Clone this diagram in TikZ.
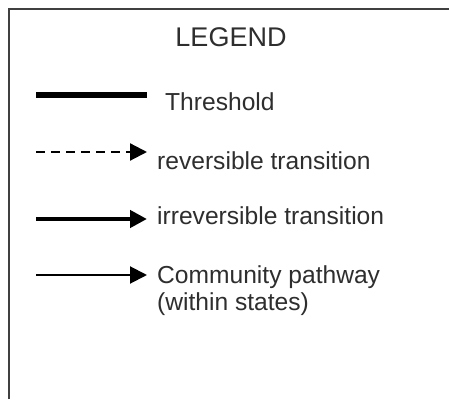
\documentclass[tikz,border=0pt]{standalone}
\usepackage{fontspec}
\setmainfont{Liberation Sans}
\usetikzlibrary{arrows.meta}
\begin{document}
\begin{tikzpicture}[x=1pt,y=1pt,
  frame/.style={draw=black!75, line width=2.4pt},
  lbl/.style={anchor=base west, inner sep=0pt, text=black!82, font=\fontsize{24.6}{27}\selectfont},
  tip/.style={-{Triangle[length=17pt,width=17pt]}},
  thresh/.style={line width=5.5pt},
  revline/.style={tip, line width=2.2pt, dash pattern=on 9pt off 6pt},
  irrline/.style={tip, line width=4.5pt},
  comline/.style={tip, line width=2pt}]
\useasboundingbox (0,0) rectangle (449,399);
\fill[white] (0,0) rectangle (449,399);
\coordinate (fb) at (9,0);
\coordinate (fc) at (9,390);
\coordinate (fr) at (449,390);
\draw[frame] (fb) -- (fc) -- (fr);
\node[anchor=base, inner sep=0pt, text=black!82, font=\fontsize{27}{30}\selectfont] (title) at (231,352) {LEGEND};
% threshold
\coordinate (t1) at (36,304);
\coordinate (t2) at (147,304);
\draw[thresh] (t1) -- (t2);
\node[lbl] (tl) at (165,288) {Threshold};
% reversible
\coordinate (r1) at (36,247);
\coordinate (r2) at (147,247);
\draw[revline] (r1) -- (r2);
\node[lbl] (rl) at (157,229) {reversible transition};
% irreversible
\coordinate (i1) at (36,180);
\coordinate (i2) at (147,180);
\draw[irrline] (i1) -- (i2);
\node[lbl] (il) at (157,174) {irreversible transition};
% community
\coordinate (c1) at (36,124);
\coordinate (c2) at (147,124);
\draw[comline] (c1) -- (c2);
\node[lbl] (cl) at (157,116) {Community pathway};
\node[lbl] (cl2) at (157,89) {(within states)};
\end{tikzpicture}
\end{document}
